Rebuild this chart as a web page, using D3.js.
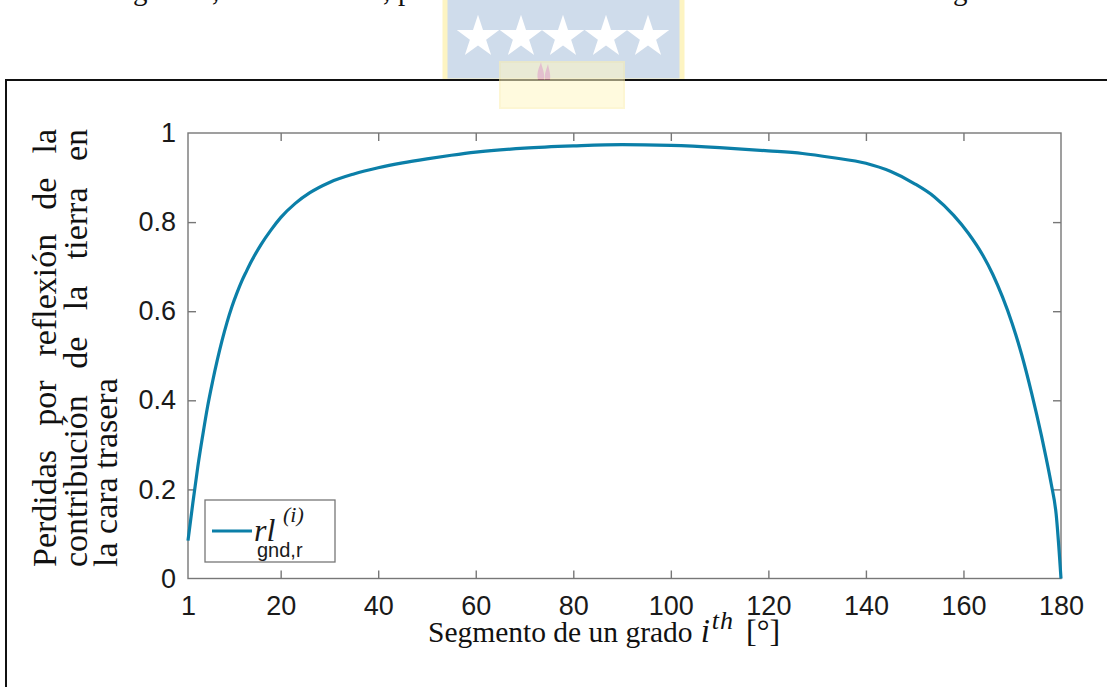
<!DOCTYPE html>
<html>
<head>
<meta charset="utf-8">
<script src="https://cdn.jsdelivr.net/npm/d3@7"></script>
<style>
  html, body { margin: 0; padding: 0; background: #fff; }
  svg { display: block; }
</style>
</head>
<body>
<svg id="fig" width="1107" height="687"></svg>
<script>
// Loss curve: ground reflection contribution on the rear face, per one-degree segment
const segments = [1, 2, 3, 4, 5, 6, 7, 8, 9, 10, 11, 12, 13, 14, 16, 18, 20, 23, 26, 30, 35, 40, 45, 50, 55, 60, 70, 80, 90, 100, 110, 120, 127, 133, 140, 145, 150, 154, 158, 161, 164, 166, 168, 170, 172, 174, 176, 177, 178, 179, 180];
const losses   = [0.085, 0.17, 0.25, 0.32, 0.385, 0.44, 0.49, 0.535, 0.575, 0.61, 0.64, 0.667, 0.69, 0.712, 0.75, 0.782, 0.81, 0.842, 0.866, 0.889, 0.908, 0.922, 0.933, 0.942, 0.950, 0.957, 0.966, 0.971, 0.974, 0.972, 0.967, 0.960, 0.954, 0.945, 0.932, 0.914, 0.886, 0.857, 0.815, 0.775, 0.725, 0.683, 0.632, 0.572, 0.50, 0.415, 0.32, 0.268, 0.212, 0.145, 0.0];

const xTickValues = [1, 20, 40, 60, 80, 100, 120, 140, 160, 180];
const yTickValues = [0, 0.2, 0.4, 0.6, 0.8, 1];
const yTickLabels = ["0", "0.2", "0.4", "0.6", "0.8", "1"];

const yLabelLines = ["Perdidas por reflexión de la", "contribución de la tierra en", "la cara trasera"];
const xLabelText = "Segmento de un grado";

const lineColor = "#0b7fa8";
const axisColor = "#777777";
const tickFont = "'Liberation Sans', Arial, sans-serif";
const serifFont = "'Liberation Serif', 'Times New Roman', serif";

const svg = d3.select("#fig");

// ---- header: tail of the previous text line and the university crest ----
const header = svg.append("g");
header.append("g")
  .attr("font-family", serifFont).attr("font-size", 29).attr("fill", "#111")
  .selectAll("text")
  .data([{x: 133, t: "g"}, {x: 212, t: ","}, {x: 383, t: ","}, {x: 398, t: "p"}, {x: 953, t: "g"}])
  .join("text")
  .attr("x", d => d.x).attr("y", 0)
  .text(d => d.t);

const crest = svg.append("g");
crest.append("rect").attr("x", 445).attr("y", -6).attr("width", 237).attr("height", 87)
  .attr("fill", "#cfdceb").attr("stroke", "#fdf4c2").attr("stroke-width", 5);
const starX = [478, 521, 563, 606, 648];
const starPath = d3.symbol().type(d3.symbolStar).size(560);
crest.selectAll("path.star").data(starX).join("path")
  .attr("class", "star")
  .attr("d", starPath)
  .attr("transform", d => `translate(${d},37)`)
  .attr("fill", "#ffffff");

// ---- figure frame ----
svg.append("rect").attr("x", 6).attr("y", 80).attr("width", 1120).attr("height", 640)
  .attr("fill", "#ffffff").attr("stroke", "#111").attr("stroke-width", 2);

// faint crest base showing through the frame
const base = svg.append("g").attr("opacity", 0.55);
base.append("rect").attr("x", 500).attr("y", 62).attr("width", 124).attr("height", 46)
  .attr("fill", "#fff6c4").attr("stroke", "#fdf0b0").attr("stroke-width", 2);
base.append("path")
  .attr("d", "M538,80 C536,72 540,66 541,62 C542,68 545,72 544,80 Z M545,80 C544,73 547,68 548,64 C549,70 551,74 550,80 Z")
  .attr("fill", "#f4a9b8");

// ---- plot area ----
const plotLeft = 188, plotRight = 1061, plotTop = 133, plotBottom = 578.5;

const x = d3.scaleLinear().domain([1, 180]).range([plotLeft, plotRight]);
const y = d3.scaleLinear().domain([0, 1]).range([plotBottom, plotTop]);

const axes = svg.append("g");

// axis box
axes.append("rect")
  .attr("x", plotLeft).attr("y", plotTop)
  .attr("width", plotRight - plotLeft).attr("height", plotBottom - plotTop)
  .attr("fill", "none").attr("stroke", axisColor).attr("stroke-width", 1.4);

const tickLen = 8;

// bottom & top axes (inward ticks)
const xBottom = axes.append("g").attr("transform", `translate(0,${plotBottom})`)
  .call(d3.axisBottom(x).tickValues(xTickValues).tickSizeInner(-tickLen).tickSizeOuter(0).tickPadding(17));
const xTop = axes.append("g").attr("transform", `translate(0,${plotTop})`)
  .call(d3.axisTop(x).tickValues(xTickValues.slice(1, -1)).tickSizeInner(-tickLen).tickSizeOuter(0).tickFormat(""));
// left & right axes
const yLeft = axes.append("g").attr("transform", `translate(${plotLeft},0)`)
  .call(d3.axisLeft(y).tickValues(yTickValues).tickSizeInner(-tickLen).tickSizeOuter(0).tickPadding(12)
    .tickFormat((d, i) => yTickLabels[i]));
const yRight = axes.append("g").attr("transform", `translate(${plotRight},0)`)
  .call(d3.axisRight(y).tickValues(yTickValues.slice(1, -1)).tickSizeInner(-tickLen).tickSizeOuter(0).tickFormat(""));

[xBottom, xTop, yLeft, yRight].forEach(g => {
  g.select(".domain").remove();
  g.selectAll(".tick line").attr("stroke", axisColor).attr("stroke-width", 1.4);
  g.selectAll(".tick text").attr("fill", "#1a1a1a").attr("font-family", tickFont).attr("font-size", 27);
});
xBottom.selectAll(".tick").filter(d => d === 1 || d === 180).select("line").remove();
yLeft.selectAll(".tick").filter(d => d === 0 || d === 1).select("line").remove();

// data line
const line = d3.line()
  .x((d, i) => x(segments[i]))
  .y(d => y(d))
  .curve(d3.curveMonotoneX);

svg.append("path")
  .datum(losses)
  .attr("d", line)
  .attr("fill", "none")
  .attr("stroke", lineColor)
  .attr("stroke-width", 3.2)
  .attr("stroke-linejoin", "round");

// ---- legend ----
const legend = svg.append("g");
legend.append("rect").attr("x", 205).attr("y", 500).attr("width", 130).attr("height", 62)
  .attr("fill", "#fff").attr("stroke", axisColor).attr("stroke-width", 1.3);
legend.append("line").attr("x1", 212).attr("x2", 252).attr("y1", 531).attr("y2", 531)
  .attr("stroke", lineColor).attr("stroke-width", 3.2);
legend.append("text").attr("x", 254).attr("y", 541)
  .attr("font-family", serifFont).attr("font-style", "italic").attr("font-size", 32).attr("fill", "#1a1a1a")
  .text("rl");
legend.append("text").attr("x", 283).attr("y", 522)
  .attr("font-family", serifFont).attr("font-style", "italic").attr("font-size", 22).attr("fill", "#1a1a1a")
  .text("(i)");
legend.append("text").attr("x", 257).attr("y", 557)
  .attr("font-family", tickFont).attr("font-size", 20).attr("fill", "#1a1a1a")
  .text("gnd,r");

// ---- axis labels ----
const yLab = svg.append("g")
  .attr("font-family", serifFont).attr("font-size", 34).attr("fill", "#111");
const colX = [56, 87, 117];
const labStart = 567, labEnd = 129;
yLabelLines.forEach((txt, i) => {
  const t = yLab.append("text")
    .attr("transform", `translate(${colX[i]},${labStart}) rotate(-90)`)
    .attr("x", 0).attr("y", 0)
    .text(txt);
  if (i < yLabelLines.length - 1) {
    const natural = t.node().getComputedTextLength();
    const gaps = txt.split(" ").length - 1;
    t.attr("word-spacing", (labStart - labEnd - natural) / gaps);
  }
});

const xLab = svg.append("text")
  .attr("font-family", serifFont).attr("font-size", 29.5).attr("fill", "#111")
  .attr("x", 428).attr("y", 642);
xLab.append("tspan").text(xLabelText);
xLab.append("tspan").attr("dx", 8).attr("font-style", "italic").attr("font-size", 33).text("i");
xLab.append("tspan").attr("dx", 2).attr("font-style", "italic").attr("font-size", 26)
  .attr("letter-spacing", 1).attr("dy", -13).text("th");
xLab.append("tspan").attr("dx", 12).attr("dy", 13).attr("font-size", 32).text("[°]");
</script>
</body>
</html>
